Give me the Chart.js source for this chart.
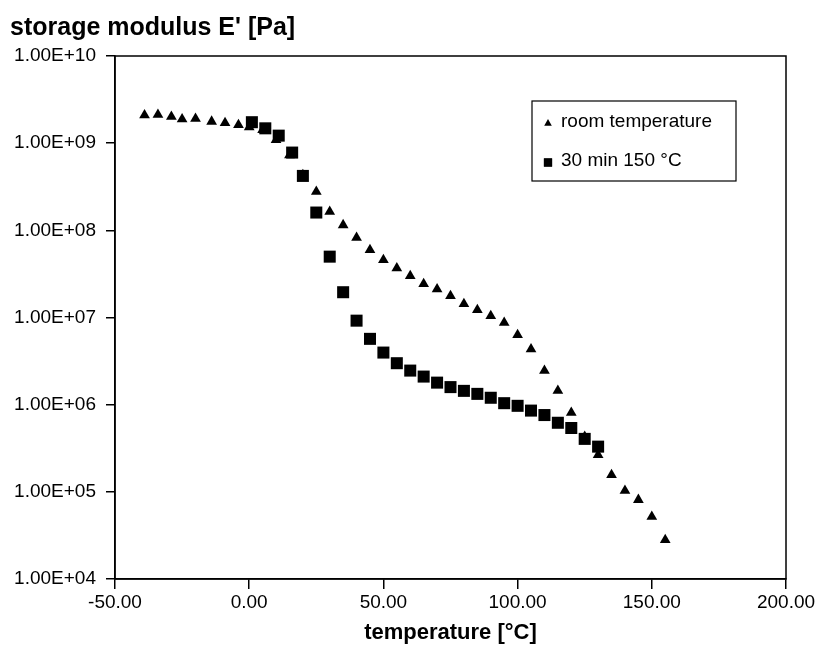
<!DOCTYPE html>
<html>
<head>
<meta charset="utf-8">
<script src="https://cdn.jsdelivr.net/npm/chart.js@4"></script>
<style>
  html, body { margin: 0; padding: 0; background: #ffffff; }
  #wrap { width: 819px; height: 651px; }
</style>
</head>
<body>
<div id="wrap"><canvas id="c" width="819" height="651"></canvas></div>
<script>
// ---- data ----
const temperatureRoom = [-39, -34, -29, -25, -20, -14, -9, -4, 0, 5, 10, 15, 20, 25, 30, 35, 40, 45, 50, 55, 60, 65, 70, 75, 80, 85, 90, 95, 100, 105, 110, 115, 120, 125, 130, 135, 140, 145, 150, 155];
const modulusRoom = [2.1e9, 2.12e9, 2.01e9, 1.88e9, 1.91e9, 1.77e9, 1.71e9, 1.62e9, 1.53e9, 1.42e9, 1.09e9, 7.3e8, 4.32e8, 2.78e8, 1.64e8, 1.15e8, 8.25e7, 5.96e7, 4.58e7, 3.68e7, 3.0e7, 2.43e7, 2.11e7, 1.77e7, 1.43e7, 1.22e7, 1.04e7, 8.73e6, 6.3e6, 4.32e6, 2.46e6, 1.45e6, 8.1e5, 4.3e5, 2.65e5, 1.56e5, 1.03e5, 8.1e4, 5.2e4, 2.8e4];

const temperatureAnneal = [1, 6, 11, 16, 20, 25, 30, 35, 40, 45, 50, 55, 60, 65, 70, 75, 80, 85, 90, 95, 100, 105, 110, 115, 120, 125, 130];
const modulusAnneal = [1.74e9, 1.48e9, 1.22e9, 7.8e8, 4.21e8, 1.6e8, 4.99e7, 1.95e7, 9.2e6, 5.69e6, 3.96e6, 2.99e6, 2.46e6, 2.1e6, 1.79e6, 1.59e6, 1.44e6, 1.33e6, 1.2e6, 1.04e6, 9.7e5, 8.55e5, 7.6e5, 6.2e5, 5.4e5, 4.05e5, 3.3e5];

const seriesNames = ['room temperature', '30 min 150 °C'];
const xTickValues = [-50, 0, 50, 100, 150, 200];
const xTickLabels = ['-50.00', '0.00', '50.00', '100.00', '150.00', '200.00'];
const yTickValues = [1e4, 1e5, 1e6, 1e7, 1e8, 1e9, 1e10];
const yTickLabels = ['1.00E+04', '1.00E+05', '1.00E+06', '1.00E+07', '1.00E+08', '1.00E+09', '1.00E+10'];
const yAxisTitle = "storage modulus E' [Pa]";
const xAxisTitle = 'temperature [°C]';

const FONT = "'Liberation Sans', Arial, sans-serif";
const INK = '#000000';

const toPoints = (xs, ys) => xs.map((x, i) => ({ x: x, y: ys[i] }));

const framePlugin = {
  id: 'frame',
  beforeDatasetsDraw(chart) {
    const a = chart.chartArea, ctx = chart.ctx;
    ctx.save();
    ctx.strokeStyle = INK;
    ctx.lineWidth = 1.5;
    ctx.strokeRect(a.left, a.top, a.right - a.left, a.bottom - a.top);
    ctx.restore();
  }
};

const legendBoxPlugin = {
  id: 'legendBox',
  afterDatasetsDraw(chart) {
    const ctx = chart.ctx;
    const box = { left: 532, top: 101, right: 736, bottom: 181 };
    ctx.save();
    ctx.fillStyle = '#ffffff';
    ctx.fillRect(box.left, box.top, box.right - box.left, box.bottom - box.top);
    ctx.strokeStyle = INK;
    ctx.lineWidth = 1.2;
    ctx.strokeRect(box.left, box.top, box.right - box.left, box.bottom - box.top);
    const rows = [122, 161];
    chart.data.datasets.forEach((ds, i) => {
      const y = rows[i];
      Chart.helpers.drawPoint(ctx, {
        pointStyle: ds.pointStyle,
        radius: i === 0 ? 4.4 : 5.8,
        borderWidth: 0
      }, 548, y + 1.5);
      ctx.fillStyle = INK;
      ctx.fill();
      ctx.font = '19px ' + FONT;
      ctx.textAlign = 'left';
      ctx.textBaseline = 'middle';
      ctx.fillStyle = INK;
      ctx.fillText(ds.label, 561, y);
    });
    ctx.restore();
  }
};

new Chart(document.getElementById('c'), {
  type: 'scatter',
  data: {
    datasets: [
      {
        label: seriesNames[0],
        data: toPoints(temperatureRoom, modulusRoom),
        pointStyle: 'triangle',
        pointRadius: 6.2,
        pointHoverRadius: 6.2,
        backgroundColor: INK,
        borderColor: INK,
        borderWidth: 0,
        order: 1
      },
      {
        label: seriesNames[1],
        data: toPoints(temperatureAnneal, modulusAnneal),
        pointStyle: 'rect',
        pointRadius: 8.5,
        pointHoverRadius: 8.5,
        backgroundColor: INK,
        borderColor: INK,
        borderWidth: 0,
        order: 0
      }
    ]
  },
  options: {
    responsive: false,
    animation: false,
    events: [],
    layout: { padding: { left: 10, right: 33, top: 0, bottom: 0 } },
    plugins: {
      legend: { display: false },
      tooltip: { enabled: false },
      title: {
        display: true,
        text: yAxisTitle,
        align: 'start',
        color: INK,
        font: { family: FONT, size: 25, weight: 'bold', lineHeight: 1.2 },
        padding: { top: 13, bottom: 13 }
      }
    },
    scales: {
      x: {
        type: 'linear',
        min: -50,
        max: 200,
        afterBuildTicks(scale) { scale.ticks = xTickValues.map(v => ({ value: v })); },
        afterFit(scale) { scale.height = 72; },
        ticks: {
          color: INK,
          font: { family: FONT, size: 19 },
          padding: 2,
          maxRotation: 0,
          autoSkip: false,
          callback(value) { const i = xTickValues.indexOf(value); return i >= 0 ? xTickLabels[i] : ''; }
        },
        grid: { drawOnChartArea: false, drawTicks: true, tickLength: 10, color: INK, lineWidth: 1.5 },
        border: { display: true, color: INK, width: 1.5 },
        title: {
          display: true,
          text: xAxisTitle,
          color: INK,
          font: { family: FONT, size: 22, weight: 'bold', lineHeight: 1.2 },
          padding: { top: 0, bottom: 5 }
        }
      },
      y: {
        type: 'logarithmic',
        min: 1e4,
        max: 1e10,
        afterBuildTicks(scale) { scale.ticks = yTickValues.map(v => ({ value: v })); },
        afterFit(scale) { scale.width = 105; },
        ticks: {
          color: INK,
          font: { family: FONT, size: 19 },
          padding: 10,
          autoSkip: false,
          callback(value) { const i = yTickValues.indexOf(value); return i >= 0 ? yTickLabels[i] : ''; }
        },
        grid: { drawOnChartArea: false, drawTicks: true, tickLength: 9, color: INK, lineWidth: 1.5 },
        border: { display: true, color: INK, width: 1.5 }
      }
    }
  },
  plugins: [framePlugin, legendBoxPlugin]
});
</script>
</body>
</html>
